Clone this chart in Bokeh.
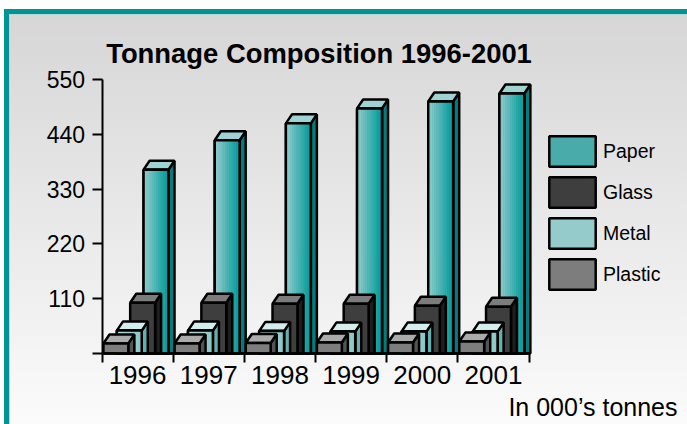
import numpy as np
from bokeh.plotting import figure
from bokeh.models import FixedTicker, Label, Legend, LegendItem, Range1d
from bokeh.embed import file_html
from bokeh.resources import INLINE

# ---- data -------------------------------------------------------------
years = ["1996", "1997", "1998", "1999", "2000", "2001"]
paper = [369, 428, 462, 492, 506, 522]
glass = [102, 102, 100, 100, 96, 94]
metal = [46, 46, 45, 44, 44, 44]
plastic = [20, 20, 21, 22, 22, 24]
y_ticks = [0, 110, 220, 330, 440, 550]
series_names = ["Paper", "Glass", "Metal", "Plastic"]
series_values = {"Paper": paper, "Glass": glass, "Metal": metal, "Plastic": plastic}

FONT = "Liberation Sans"
W, H = 687, 424

# ---- styles -------------------------------------------------------------
style = {
    "Paper":   dict(depth=3, front=("#93cccc", "#009a9a"), flat="#4aabab", top="#9fd3d3", side="#007d7d"),
    "Glass":   dict(depth=2, front=None, flat="#3e3e3e", top="#7c7c7c", side="#1e1e1e"),
    "Metal":   dict(depth=1, front=("#b4dede", "#8ac6c6"), flat="#96cbcb", top="#d4eded", side="#62b0b0"),
    "Plastic": dict(depth=0, front=None, flat="#7d7d7d", top="#ababab", side="#545454"),
}
BAR_W = 0.35
STEP = 0.188
START = 0.02
DX = 0.085   # depth offset in x data units
DY = 18.0    # depth offset in y data units
LW = 2.5

# pixel placement of the axes inside the canvas
X0_PX, PX_PER_X = 101.5, 71.17          # x=0 at 101.5 px, one year = 71.17 px
Y0_PX, PX_PER_Y = 353.0, 274.0 / 550.0  # y=0 at 353 px, 550 at 79 px


def hex_to_rgb(h):
    h = h.lstrip("#")
    return np.array([int(h[i:i + 2], 16) for i in (0, 2, 4)], dtype=float)


def rgb_to_hex(c):
    return "#%02x%02x%02x" % tuple(int(round(v)) for v in c)


p = figure(width=W, height=H, output_backend="svg", toolbar_location=None,
           x_range=Range1d(-X0_PX / PX_PER_X, (W - X0_PX) / PX_PER_X),
           y_range=Range1d(-(H - Y0_PX) / PX_PER_Y, (Y0_PX) / PX_PER_Y),
           min_border=0)
p.border_fill_alpha = 0
p.background_fill_alpha = 0
p.outline_line_color = None
p.xgrid.visible = False
p.ygrid.visible = False
p.styles = {
    "background-image": "linear-gradient(to bottom, #d5d5d5 0%, #e4e4e4 40%, #fbfbfb 100%)",
    "box-shadow": "inset 4px 9px 0 0 #ffffff, inset 9px 14px 0 0 #009494, inset 10px 15px 0 0 #b8d8d8",
}

cats = np.arange(len(years))
front_renderers = {}

for name in ["Paper", "Glass", "Metal", "Plastic"]:
    st = style[name]
    vals = np.array(series_values[name], dtype=float)
    left = cats + START + st["depth"] * STEP
    right = left + BAR_W

    # side face
    side_xs = [[r, r + DX, r + DX, r] for r in right]
    side_ys = [[0, 0, v + DY, v] for v in vals]
    p.patches(side_xs, side_ys, fill_color=st["side"], line_color="black", line_width=LW)

    # top face
    top_xs = [[l, l + DX, r + DX, r] for l, r in zip(left, right)]
    top_ys = [[v, v + DY, v + DY, v] for v in vals]
    p.patches(top_xs, top_ys, fill_color=st["top"], line_color="black", line_width=LW)

    # front face (flat colour, used for legend)
    fr = p.quad(left=left, right=right, top=vals, bottom=0, fill_color=st["flat"],
                line_color="black", line_width=LW)
    front_renderers[name] = fr

    # gradient shading on the front face
    if st["front"] is not None:
        n = 12
        c0, c1 = hex_to_rgb(st["front"][0]), hex_to_rgb(st["front"][1])
        sl, sr, stp, scol = [], [], [], []
        for l, r, v in zip(left, right, vals):
            edges = np.linspace(l, r, n + 1)
            for i in range(n):
                sl.append(edges[i])
                sr.append(edges[i + 1] + 0.002)
                stp.append(v)
                scol.append(rgb_to_hex(c0 + (c1 - c0) * i / (n - 1)))
        p.quad(left=sl, right=sr, top=stp, bottom=0, fill_color=scol, line_color=None)
        p.quad(left=left, right=right, top=vals, bottom=0, fill_color=None,
               line_color="black", line_width=LW)

# ---- axes (fixed inside the canvas) -----------------------------------
xa = p.xaxis[0]
xa.fixed_location = 0
xa.bounds = (0, len(years))
xa.ticker = FixedTicker(ticks=[i + 0.5 for i in range(len(years))],
                        minor_ticks=list(range(len(years) + 1)))
xa.major_label_overrides = {i + 0.5: y for i, y in enumerate(years)}
xa.major_tick_line_color = None
xa.major_tick_out = 0
xa.major_tick_in = 0
xa.minor_tick_in = 0
xa.minor_tick_out = 9
xa.minor_tick_line_width = 2
xa.minor_tick_line_color = "black"
xa.axis_line_width = 2.5
xa.axis_line_color = "black"
xa.major_label_text_font = FONT
xa.major_label_text_font_size = "26px"
xa.major_label_text_color = "black"
xa.major_label_standoff = 3

ya = p.yaxis[0]
ya.fixed_location = 0
ya.bounds = (0, 550)
ya.ticker = FixedTicker(ticks=y_ticks, minor_ticks=[])
ya.major_label_overrides = {0: ""}
ya.major_tick_out = 10
ya.major_tick_in = 0
ya.major_tick_line_width = 2
ya.major_tick_line_color = "black"
ya.axis_line_width = 2
ya.axis_line_color = "black"
ya.major_label_text_font = FONT
ya.major_label_text_font_size = "23px"
ya.major_label_text_color = "black"
ya.major_label_standoff = 7

# ---- legend -------------------------------------------------------------
# (bokeh insets area glyphs by 10% on each side inside the glyph box)
legend = Legend(items=[LegendItem(label=n, renderers=[front_renderers[n]]) for n in series_names],
                location=(543, 131), orientation="vertical",
                glyph_width=58, glyph_height=38, spacing=3, label_standoff=2,
                label_height=30, padding=0, margin=0,
                border_line_color=None, background_fill_alpha=0,
                label_text_font=FONT, label_text_font_size="19.5px", label_text_color="black")
p.add_layout(legend)

# ---- texts --------------------------------------------------------------
p.add_layout(Label(x=3, y=550, x_offset=3.5, y_offset=26,
                   text="Tonnage Composition 1996-2001", text_font=FONT,
                   text_font_size="27.4px", text_font_style="bold", text_color="black",
                   text_align="center", text_baseline="alphabetic"))
p.add_layout(Label(x=6, y=0, x_offset=148.5, y_offset=-53,
                   text="In 000\u2019s tonnes", text_font=FONT, text_font_size="25px",
                   text_color="black", text_align="right", text_baseline="alphabetic"))

open("out.html", "w").write(file_html(p, INLINE))
